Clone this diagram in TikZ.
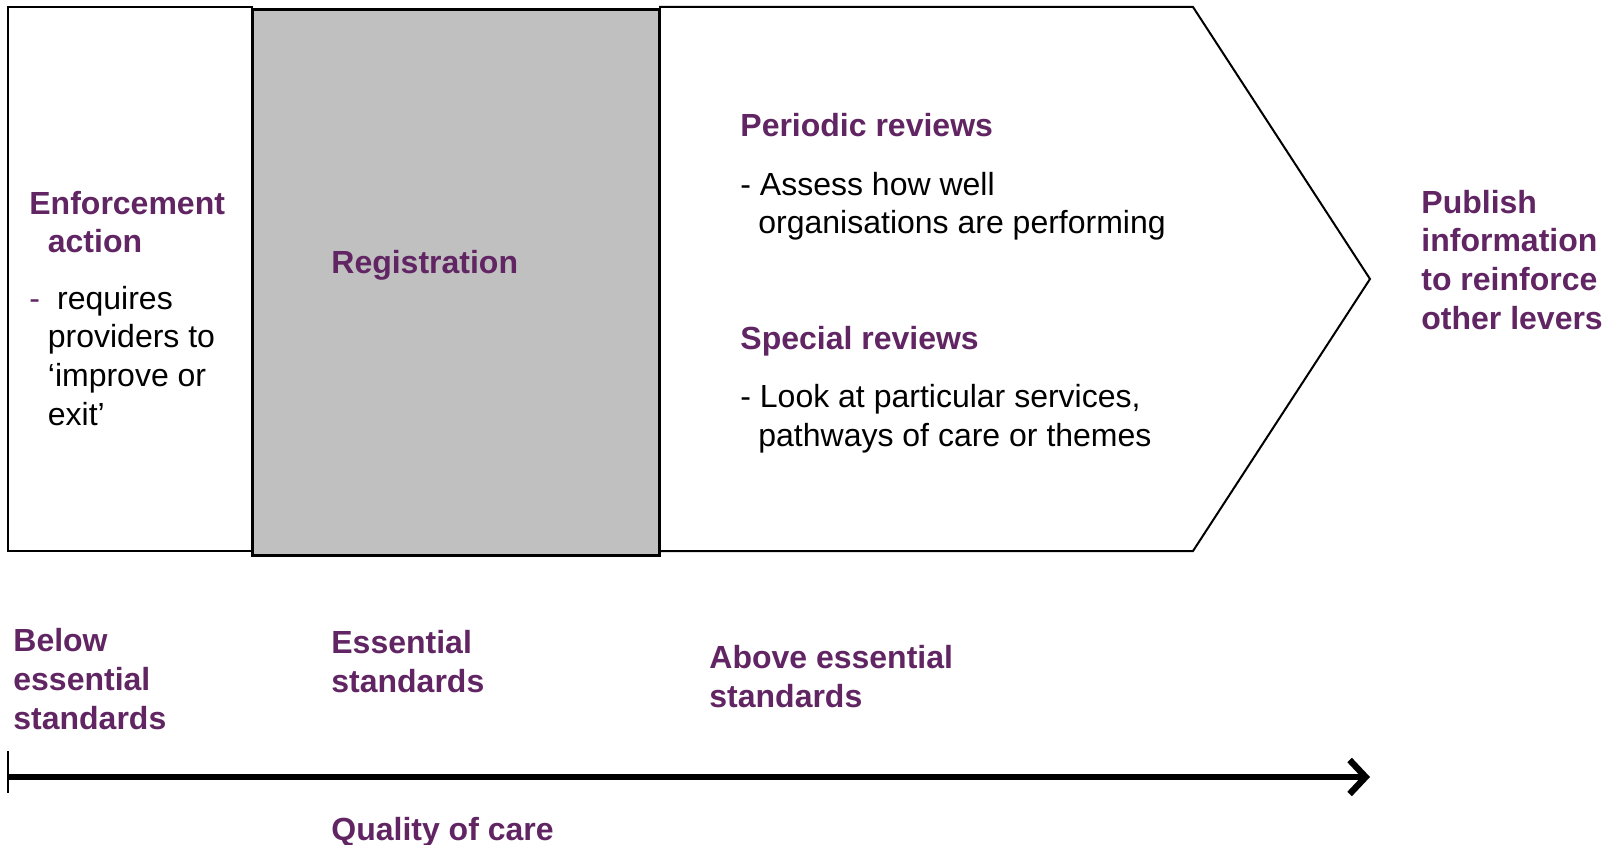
\documentclass[tikz,border=0pt]{standalone}
\usepackage{fontspec}
\setmainfont{Liberation Sans}
\usetikzlibrary{arrows.meta}
\definecolor{levpurple}{RGB}{96,37,98}
\definecolor{regfill}{RGB}{192,192,192}

\begin{document}
\begin{tikzpicture}[x=0.5pt,y=-0.5pt,
    heading/.style={font=\bfseries\fontsize{16}{19.3}\selectfont, text=levpurple,
                    anchor=base west, inner sep=0pt, align=left},
    body/.style={font=\fontsize{16}{19.3}\selectfont,
                 anchor=base west, inner sep=0pt, align=left}]
    \useasboundingbox (0,0) rectangle (1612,845);
    % the three levers
    \draw [line width=1pt] (8,7) rectangle (252,551);
    \draw [line width=1pt] (659,7) -- (1193,7) -- (1370,279) -- (1193,551) -- (659,551);
    \draw [line width=1.5pt, fill=regfill] (252,10) rectangle (659,555);
    \node [heading] (enforce) at (29,253) {Enforcement\\\hspace*{9.25pt}action};
    \node [body] (improve) at (29,425) {\makebox[13.9pt][l]{\textcolor{levpurple}{-}}requires\\
        \hspace*{9.25pt}providers to\\\hspace*{9.25pt}`improve or\\\hspace*{9.25pt}exit'};
    \node [heading] (reg) at (331,274) {Registration};
    \node [heading] (periodic) at (740,137) {Periodic reviews};
    \node [body] (assess) at (740,234) {- Assess how well\\\hspace*{9pt}organisations are performing};
    \node [heading] (special) at (740,350) {Special reviews};
    \node [body] (look) at (740,446) {- Look at particular services,\\\hspace*{9pt}pathways of care or themes};
    \node [heading] (publish) at (1421,329) {Publish\\information\\to reinforce\\other levers};
    % quality axis
    \node [heading] (below) at (13,729) {Below\\essential\\standards};
    \node [heading] (essential) at (331,692) {Essential\\standards};
    \node [heading] (above) at (709,707) {Above essential\\standards};
    \coordinate (qstart) at (8,777);
    \coordinate (qend) at (1370,777);
    \draw [line width=3.2pt, -{Straight Barb[length=8pt,width=17pt]}] (qstart) -- (qend);
    \draw [line width=0.8pt] ([yshift=13pt]qstart) -- ([yshift=-8pt]qstart);
    \node [heading] (quality) at (331,840) {Quality of care};
\end{tikzpicture}
\end{document}
